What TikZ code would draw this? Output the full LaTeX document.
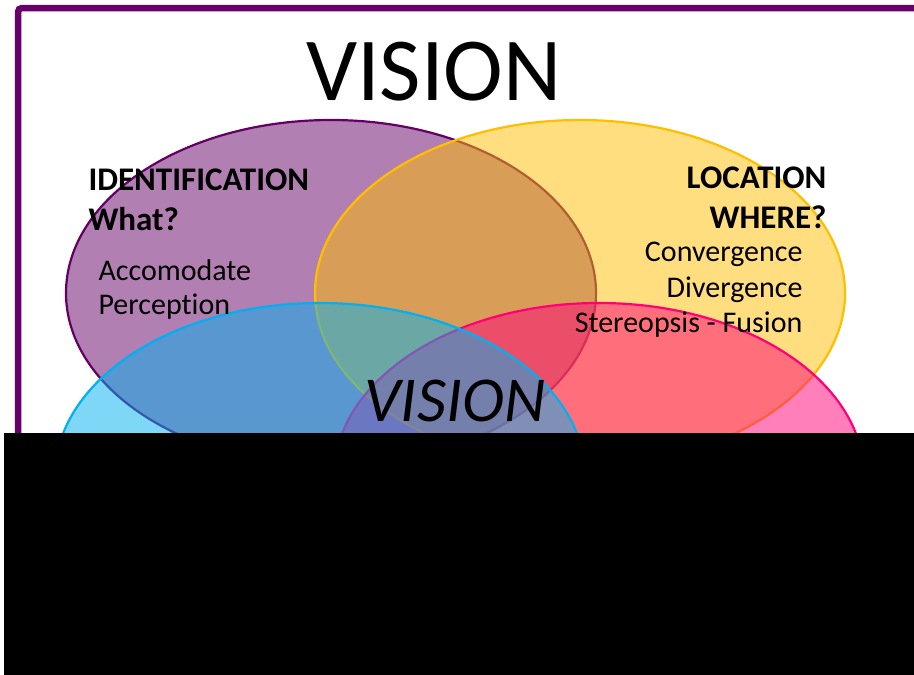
\documentclass[tikz,border=0pt]{standalone}
\usepackage{fontspec}
\setmainfont{Carlito}[Ligatures=NoCommon]
\usetikzlibrary{shapes.geometric}
\definecolor{framepurple}{RGB}{104, 0, 106}
\definecolor{identpurple}{RGB}{100, 0, 100}
\definecolor{locgold}{RGB}{255, 190, 0}
\definecolor{depthblue}{RGB}{0, 176, 240}
\definecolor{motionpink}{RGB}{255, 0, 120}

\tikzset{
  venn/.style={ellipse, inner sep=0pt, minimum width=530pt, minimum height=346pt,
    line width=2.2pt, fill opacity=0.5, draw opacity=1},
  head/.style={font=\fontsize{33}{40}\selectfont\bfseries},
  item/.style={font=\fontsize{30}{36}\selectfont},
}

\begin{document}
\begin{tikzpicture}[x=1pt, y=-1pt]
  \useasboundingbox (0,0) rectangle (914,675);
  \fill[white] (0,0) rectangle (914,675);

  % Frame
  \begin{scope}
    \clip (0,0) rectangle (914,675);
    \draw[framepurple, line width=6.5pt, rounded corners=4pt] (18,8) rectangle (960,720);
  \end{scope}

  % Title
  \node[font=\fontsize{90}{100}\selectfont, anchor=base] (title) at (434,100) {VISION};

  % Circles
  \node[venn, fill=identpurple, draw=identpurple] (ident) at (331,293) {};
  \node[venn, fill=locgold, draw=locgold] (loc) at (580,293) {};
  \node[venn, fill=motionpink, draw=motionpink] (motion) at (599,476) {};
  \node[venn, fill=depthblue, draw=depthblue] (depth) at (320,476) {};

  % Identification
  \node[head, anchor=base west] (identhead) at (85,190) {IDENTIFICATION};
  \node[head, anchor=base west] (identq) at (85,230) {What?};
  \node[item, anchor=base west] (accom) at (95,280) {Accomodate};
  \node[item, anchor=base west] (percep) at (95,314) {Perception};

  % Location
  \node[head, anchor=base east] (lochead) at (830,188) {LOCATION};
  \node[head, anchor=base east] (locq) at (830,228) {WHERE?};
  \node[item, anchor=base east] (conv) at (806,261) {Convergence};
  \node[item, anchor=base east] (div) at (806,297) {Divergence};
  \node[item, anchor=base east] (stereo) at (806,332) {Stereopsis - Fusion};

  % Centre
  \node[font=\fontsize{64}{70}\selectfont\itshape, anchor=base] (centre) at (455,421) {VISION};

  % Cover
  \fill[black] (4,433) rectangle (914,675);
\end{tikzpicture}
\end{document}
